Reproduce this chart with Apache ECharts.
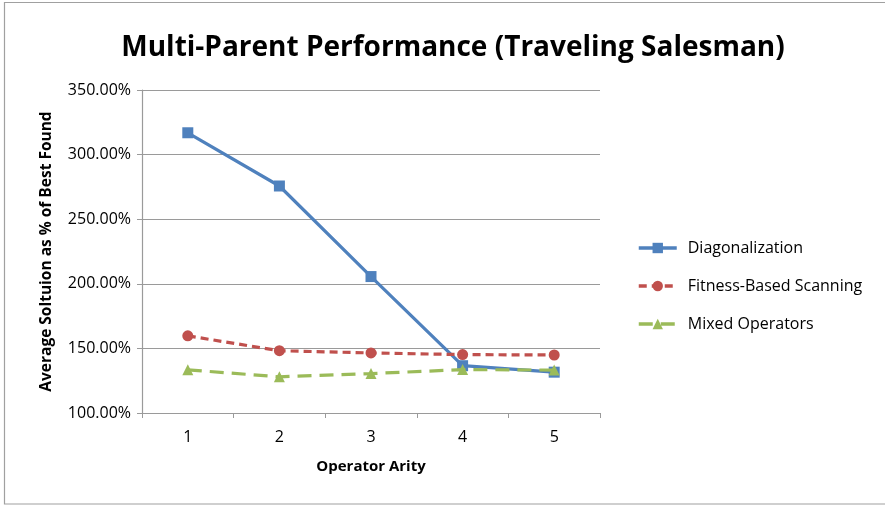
<!DOCTYPE html>
<html>
<head>
<meta charset="utf-8">
<script src="https://cdn.jsdelivr.net/npm/echarts@6/dist/echarts.min.js"></script>
<style>
  html, body { margin: 0; padding: 0; background: #fff; }
  #chart { width: 885px; height: 505px; }
</style>
</head>
<body>
<div id="chart"></div>
<script>
// Operator arity on the x axis, average solution as % of best found on the y axis
const arity = ['1', '2', '3', '4', '5'];
const diagonalization = [316.9, 275.7, 205.6, 136.6, 131.6];
const fitnessScanning = [159.7, 148.2, 146.5, 145.2, 144.9];
const mixedOperators = [133.4, 128.0, 130.5, 133.6, 133.2];

const FONT = '"Open Sans", "Liberation Sans", sans-serif';
const chart = echarts.init(document.getElementById('chart'));

chart.setOption({
  animation: false,
  backgroundColor: '#fff',
  title: {
    text: 'Multi-Parent Performance (Traveling Salesman)',
    left: 448,
    top: 29,
    textAlign: 'center',
    textStyle: { fontFamily: FONT, fontWeight: 'bold', fontSize: 28, color: '#000' }
  },
  graphic: [{
    type: 'rect',
    shape: { x: 4.5, y: 2.5, width: 885, height: 501.5 },
    style: { fill: 'none', stroke: '#a0a0a0', lineWidth: 1.2 },
    silent: true
  }],
  legend: {
    orient: 'vertical',
    left: 632,
    top: 235,
    itemGap: 22,
    itemWidth: 38,
    itemHeight: 13,
    lineStyle: { width: 3.5 },
    textStyle: { fontFamily: FONT, fontSize: 16, color: '#000', padding: [0, 0, 0, 6] },
    data: ['Diagonalization', 'Fitness-Based Scanning', 'Mixed Operators']
  },
  grid: { left: 142, right: 285, top: 90, bottom: 92 },
  xAxis: {
    type: 'category',
    data: arity,
    boundaryGap: true,
    name: 'Operator Arity',
    nameLocation: 'middle',
    nameGap: 46,
    nameTextStyle: { fontFamily: FONT, fontWeight: 'bold', fontSize: 15, color: '#000' },
    axisLine: { lineStyle: { color: '#9a9a9a', width: 1.2 } },
    axisTick: { show: true, length: 5, alignWithLabel: false, lineStyle: { color: '#9a9a9a' } },
    axisLabel: { fontFamily: FONT, fontSize: 16, color: '#000', margin: 16 }
  },
  yAxis: {
    type: 'value',
    min: 100,
    max: 350,
    interval: 50,
    name: 'Average Soltuion as % of Best Found',
    nameLocation: 'middle',
    nameGap: 87,
    nameRotate: 90,
    nameTextStyle: { fontFamily: FONT, fontWeight: 'bold', fontSize: 15.5, color: '#000' },
    axisLine: { show: true, lineStyle: { color: '#9a9a9a', width: 1.2 } },
    axisTick: { show: true, inside: false, length: 5, lineStyle: { color: '#9a9a9a' } },
    axisLabel: {
      fontFamily: FONT, fontSize: 16, color: '#000', margin: 11,
      formatter: v => v.toFixed(2) + '%'
    },
    splitLine: { show: true, lineStyle: { color: '#9a9a9a', width: 1.2 } }
  },
  series: [
    {
      name: 'Diagonalization',
      type: 'line',
      data: diagonalization,
      symbol: 'rect',
      symbolSize: 11,
      itemStyle: { color: '#4f81bd' },
      lineStyle: { color: '#4f81bd', width: 3.2 },
      z: 3
    },
    {
      name: 'Fitness-Based Scanning',
      type: 'line',
      data: fitnessScanning,
      symbol: 'circle',
      symbolSize: 11,
      itemStyle: { color: '#c0504d' },
      lineStyle: { color: '#c0504d', width: 3.2, type: [8, 5] },
      z: 4
    },
    {
      name: 'Mixed Operators',
      type: 'line',
      data: mixedOperators,
      symbol: 'triangle',
      symbolSize: 11,
      itemStyle: { color: '#9bbb59' },
      lineStyle: { color: '#9bbb59', width: 3.2, type: [14, 8] },
      z: 5
    }
  ]
});
</script>
</body>
</html>
